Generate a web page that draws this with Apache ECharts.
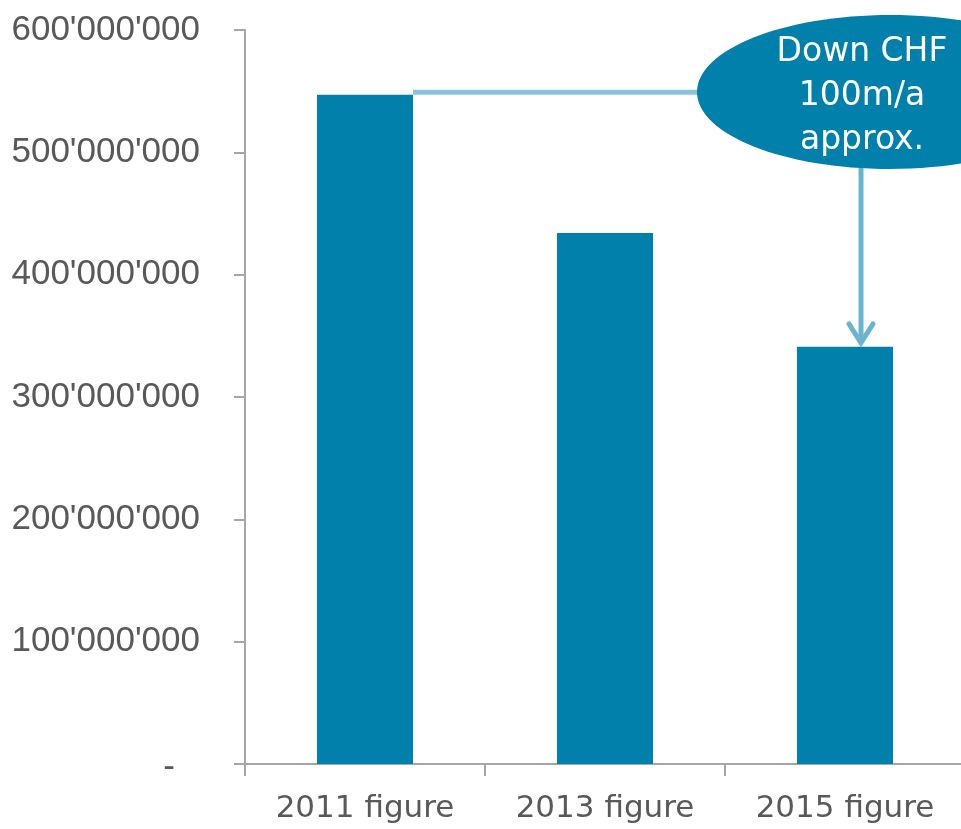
<!DOCTYPE html>
<html>
<head>
<meta charset="utf-8">
<script src="https://cdn.jsdelivr.net/npm/echarts@6/dist/echarts.min.js"></script>
<style>
  html, body { margin: 0; padding: 0; background: #ffffff; overflow: hidden; }
  #chart { width: 970px; height: 829px; }
</style>
</head>
<body>
<div id="chart"></div>
<script>
// Annual cost by reporting year (CHF)
const categories = ['2011 figure', '2013 figure', '2015 figure'];
const costs = [547000000, 434000000, 341000000];
const yMax = 600000000;
const yStep = 100000000;
const calloutLines = ['Down CHF', '100m/a', 'approx.'];

const BAR = '#0080aa';
const LINK = '#86c5da';
const ARROW = '#6ab4cf';
const AXIS = '#a6a6a6';
const LABEL = '#595959';

function swissGroup(v) {
  return String(v).replace(/\B(?=(\d{3})+(?!\d))/g, "'");
}

const chart = echarts.init(document.getElementById('chart'));

chart.setOption({
  animation: false,
  backgroundColor: '#ffffff',
  // the plot runs slightly past the right edge of the visible page
  grid: { left: 245, top: 30, right: 5, bottom: 65 },
  xAxis: {
    type: 'category',
    data: categories,
    axisLine: { lineStyle: { color: AXIS, width: 2 } },
    axisTick: { show: true, length: 12, lineStyle: { color: AXIS, width: 2 } },
    axisLabel: {
      color: LABEL,
      fontFamily: 'DejaVu Sans',
      fontSize: 31,
      margin: 29
    }
  },
  yAxis: {
    type: 'value',
    min: 0,
    max: yMax,
    interval: yStep,
    splitLine: { show: false },
    axisLine: { show: true, lineStyle: { color: AXIS, width: 2 } },
    axisTick: { show: true, length: 11, lineStyle: { color: AXIS, width: 2 } },
    axisLabel: {
      color: LABEL,
      fontFamily: 'Liberation Sans',
      fontSize: 35,
      margin: 45,
      formatter: function (v) {
        return v === 0 ? '{z|-}' : swissGroup(v);
      },
      rich: {
        z: { color: LABEL, fontFamily: 'Liberation Sans', fontSize: 35, padding: [6, 25, 0, 0] }
      }
    }
  },
  series: [{
    type: 'bar',
    data: costs,
    barWidth: '40%',
    itemStyle: { color: BAR },
    silent: true
  }]
});

// Callout: link from the 2011 bar top to the bubble, arrow down onto the 2015 bar
function drawCallout() {
  const p0 = chart.convertToPixel({ seriesIndex: 0 }, [0, costs[0]]);
  const p1 = chart.convertToPixel({ seriesIndex: 0 }, [1, costs[0]]);
  const p2 = chart.convertToPixel({ seriesIndex: 0 }, [2, costs[2]]);
  const band = p1[0] - p0[0];
  const barRight = p0[0] + band * 0.2;
  const linkY = p0[1] - 2.5;

  const cx = 890, cy = 92, rx = 193, ry = 77;
  const arrowX = p2[0] + 16;
  const tipY = p2[1] - 2;

  chart.setOption({
    graphic: [
      {
        type: 'line', z: 90, silent: true,
        shape: { x1: barRight, y1: linkY, x2: cx - rx + 10, y2: linkY },
        style: { stroke: LINK, lineWidth: 5 }
      },
      {
        type: 'line', z: 90, silent: true,
        shape: { x1: arrowX, y1: cy + ry - 5, x2: arrowX, y2: tipY - 3 },
        style: { stroke: ARROW, lineWidth: 5 }
      },
      {
        type: 'polyline', z: 90, silent: true,
        shape: { points: [[arrowX - 12, tipY - 21], [arrowX, tipY - 2], [arrowX + 12, tipY - 21]] },
        style: { stroke: ARROW, lineWidth: 5, fill: null, lineCap: 'round', lineJoin: 'miter' }
      },
      {
        type: 'ellipse', z: 100, silent: true,
        shape: { cx: cx, cy: cy, rx: rx, ry: ry },
        style: { fill: BAR }
      },
      {
        type: 'text', z: 110, silent: true,
        x: 862, y: cy + 4,
        style: {
          text: calloutLines.join('\n'),
          fill: '#ffffff',
          font: '33px "DejaVu Sans"',
          lineHeight: 44,
          align: 'center',
          verticalAlign: 'middle'
        }
      }
    ]
  });
}

drawCallout();
</script>
</body>
</html>
